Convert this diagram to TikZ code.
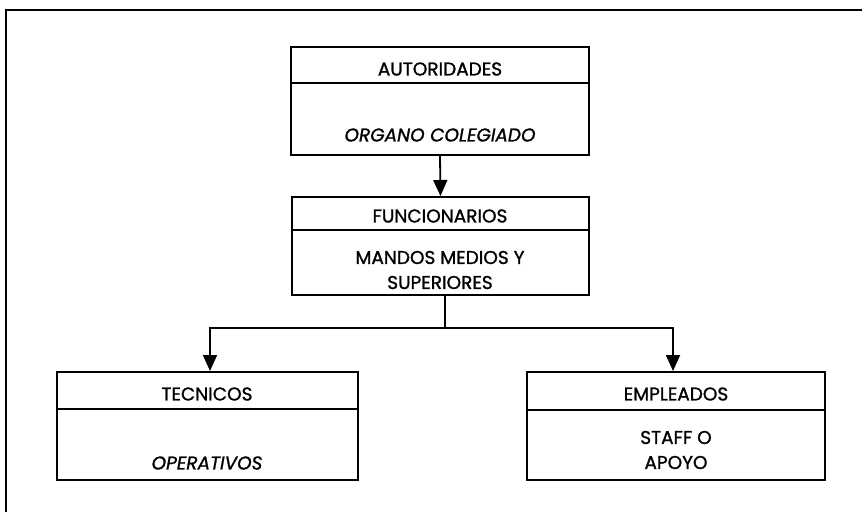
\documentclass[tikz,border=0pt]{standalone}
\usepackage{fontspec}
\setmainfont{Poppins}[FakeBold=1.2]
\usetikzlibrary{arrows.meta}
\begin{document}
\begin{tikzpicture}[x=1pt,y=-1pt,
  box/.style={draw,line width=2pt},
  sep/.style={line width=1.6pt},
  lbl/.style={font=\fontsize{18.5}{25}\selectfont,align=center,inner sep=0pt},
  ilbl/.style={lbl,font=\fontsize{18.5}{25}\selectfont\itshape},
  conn/.style={line width=1.8pt},
  arr/.style={conn,-{Triangle[width=14pt,length=16pt]}}]
\useasboundingbox (0,0) rectangle (862,516);
% outer frame (top and left edges)
\coordinate (fbl) at (6,512);
\coordinate (ftl) at (6,10);
\coordinate (ftr) at (862,10);
\draw[line width=2pt] (fbl) -- (ftl) -- (ftr);
% AUTORIDADES
\node[box,minimum width=298pt,minimum height=108pt,inner sep=0pt] (a) at (440,101) {};
\draw[sep] (291,83) -- (589,83);
\node[lbl] (a1) at (440,69) {AUTORIDADES};
\node[ilbl] (a2) at (440,135) {ORGANO COLEGIADO};
% FUNCIONARIOS
\node[box,minimum width=297pt,minimum height=98pt,inner sep=0pt] (f) at (440.5,246) {};
\draw[sep] (292,230) -- (589,230);
\node[lbl] (f1) at (440,216) {FUNCIONARIOS};
\node[lbl] (f2) at (440,270) {MANDOS MEDIOS Y\\SUPERIORES};
% TECNICOS
\node[box,minimum width=301pt,minimum height=108pt,inner sep=0pt] (t) at (207.5,426) {};
\draw[sep] (57,409) -- (358,409);
\node[lbl] (t1) at (207,394) {TECNICOS};
\node[ilbl] (t2) at (207,463) {OPERATIVOS};
% EMPLEADOS
\node[box,minimum width=298pt,minimum height=108pt,inner sep=0pt] (e) at (676,426) {};
\draw[sep] (527,410) -- (825,410);
\node[lbl] (e1) at (676,394) {EMPLEADOS};
\node[lbl] (e2) at (676,450) {STAFF O\\APOYO};
% connectors
\draw[arr] (a.south) -- (f.north);
\coordinate (j) at (445,328);
\draw[conn] (f.south -| j) -- (j);
\draw[arr] (j) -| (t.north -| 210,0);
\draw[arr] (j) -| (e.north -| 673,0);
\end{tikzpicture}
\end{document}
